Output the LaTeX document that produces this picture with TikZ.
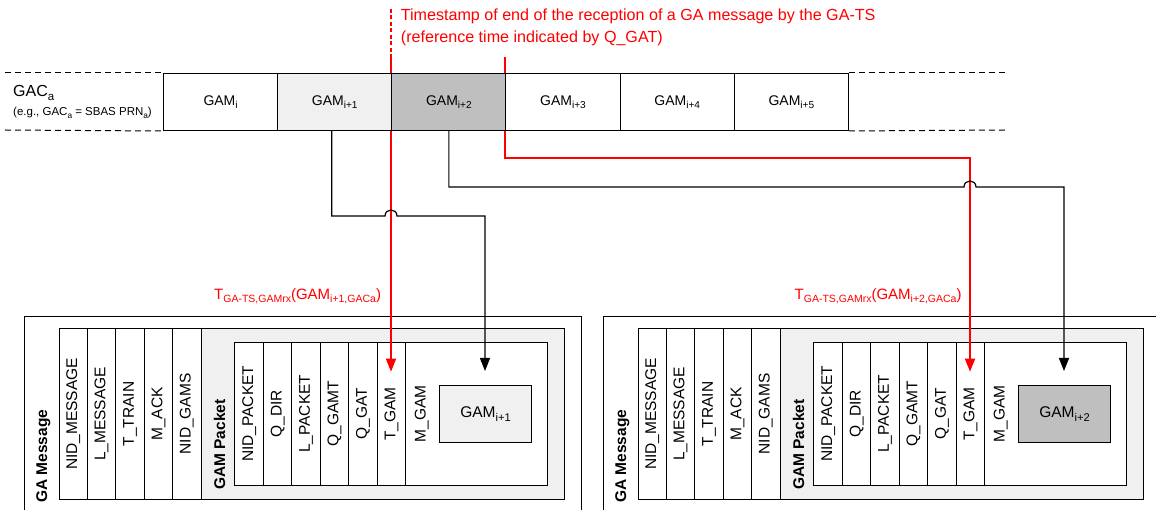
\documentclass[tikz,border=0pt]{standalone}
\usepackage{fontspec}
\setmainfont{Liberation Sans}
\usetikzlibrary{arrows.meta,calc}

% subscripts set smaller and lowered, in the current font
\newcommand\sbs[2][0.72]{\raisebox{-0.45ex}{\scalebox{#1}{#2}}}
\newcommand\fsz[1]{\fontsize{#1}{#1}\selectfont}

\tikzset{
  frame/.style={draw=black,line width=1pt},
  field/.style={frame,fill=white,rotate=90,inner sep=0pt,font=\fsz{15.5}},
  gambox/.style={frame,minimum width=114.15pt,minimum height=57pt,anchor=north west,inner sep=0pt,font=\fsz{14}},
  conn/.style={draw=black,line width=1.2pt},
  rconn/.style={draw=red,line width=1.6pt},
  tip/.style={-{Triangle[length=13pt,width=10pt]}},
  redtxt/.style={text=red,inner sep=0pt,font=\fsz{16.1}},
  hdr/.style={rotate=90,inner sep=0pt,font=\bfseries\fsz{15.5}},
}

% one GA message layout: #1 name prefix, #2 horizontal offset, #3 GAM index, #4 GAM fill
\newcommand\gapanel[4]{%
\begin{scope}[xshift=#2]
  \draw[frame] (24,317) rectangle (581.7,540);
  \draw[frame,fill=black!6] (201,329) rectangle (564.3,499);
  \foreach \lbl [count=\k from 0] in {NID\_MESSAGE,L\_MESSAGE,T\_TRAIN,M\_ACK,NID\_GAMS}
    \node[field,minimum width=170pt,minimum height=28.4pt] (#1-m\k) at ({73.2+28.4*\k},414) {\lbl};
  \draw[frame,fill=white] (235,342.7) rectangle (547.3,485);
  \foreach \lbl [count=\k from 0] in {NID\_PACKET,Q\_DIR,L\_PACKET,Q\_GAMT,Q\_GAT,T\_GAM}
    \node[field,minimum width=142.3pt,minimum height=28.45pt] (#1-p\k) at ({249.2+28.45*\k},413.85) {\lbl};
  \node[rotate=90,inner sep=0pt,font=\fsz{15.5}] (#1-mgam) at (421.7,414) {M\_GAM};
  \node[frame,fill=#4,minimum width=92.4pt,minimum height=57pt,inner sep=0pt,font=\fsz{15.5}] (#1-gam) at (485.5,414.2) {GAM\sbs{#3}};
  \node[hdr,anchor=base west] (#1-msg) at (47,503) {GA Message};
  \node[hdr,anchor=base west] (#1-pkt) at (225,490) {GAM Packet};
  \coordinate (#1-ttip) at (391,371.7);
  \coordinate (#1-mtip) at (485,371);
\end{scope}}

\begin{document}
\begin{tikzpicture}[x=1pt,y=-1pt]
\useasboundingbox (0,0) rectangle (1156,510);
\fill[white] (0,0) rectangle (1156,510);

% message layouts
\gapanel{L}{0pt}{i+1}{black!6}
\gapanel{R}{579pt}{i+2}{black!25}

% channel strip positions (drawn later, over the lines)
\path (163,73) node[gambox,draw=none] (g0) {}
      ++(114.15,0) node[gambox,draw=none] (g1) {}
      ++(114.15,0) node[gambox,draw=none] (g2) {}
      ++(114.15,0) node[gambox,draw=none] (g3) {}
      ++(114.15,0) node[gambox,draw=none] (g4) {}
      ++(114.15,0) node[gambox,draw=none] (g5) {};

% timestamp lines
\coordinate (tsTop) at (391,9);
\coordinate (tsMid) at (391,57);
\coordinate (tsRight) at (505,57);
\draw[rconn,dash pattern=on 4pt off 2.5pt] (tsTop) -- (tsMid);
\draw[rconn,tip] (tsMid) -- (L-ttip);
\draw[rconn,tip] (tsRight) -- (tsRight |- 0,158) -| (R-ttip);

% GAM routing lines with jumps over the timestamp lines
\coordinate (b1) at ($(g1.south)+(-3,0)$);
\draw[conn,tip] (b1) |- (385,216) .. controls (385,208) and (397,208) .. (397,216) -| (L-mtip);
\draw[conn,tip] (g2.south) |- (964,187) .. controls (964,179) and (976,179) .. (976,187) -| (R-mtip);

% channel strip
\node[gambox,fill=white] at (g0.north west) {GAM\sbs{i}};
\node[gambox,fill=black!6] at (g1.north west) {GAM\sbs{i+1}};
\node[gambox,fill=black!25] at (g2.north west) {GAM\sbs{i+2}};
\node[gambox,fill=white] at (g3.north west) {GAM\sbs{i+3}};
\node[gambox,fill=white] at (g4.north west) {GAM\sbs{i+4}};
\node[gambox,fill=white] at (g5.north west) {GAM\sbs{i+5}};
\draw[line width=1pt,dash pattern=on 6pt off 4pt] (5,73) -- (g0.north west);
\draw[line width=1pt,dash pattern=on 6pt off 4pt] (5,130) -- (g0.south west);
\draw[line width=1pt,dash pattern=on 6pt off 4pt] (g5.north east) -- (1005,73);
\draw[line width=1pt,dash pattern=on 6pt off 4pt] (g5.south east) -- (1005,130);

\node[anchor=base west,inner sep=0pt,font=\fsz{16}] (gac) at (13,97) {GAC\sbs{a}};
\node[anchor=base west,inner sep=0pt,font=\fsz{11.5}] (gacex) at (13,116) {(e.g., GAC\sbs{a} = SBAS PRN\sbs{a})};

% annotations
\node[redtxt,anchor=base west] (ts1) at (400.7,21) {Timestamp of end of the reception of a GA message by the GA-TS};
\node[redtxt,anchor=base west] (ts2) at (400.7,43) {(reference time indicated by Q\_GAT)};
\node[redtxt,font=\fsz{15},anchor=base east] (tl) at (381.2,299.3) {T\sbs[0.7]{GA-TS,GAMrx}(GAM\sbs[0.7]{i+1,GACa})};
\node[redtxt,font=\fsz{15},anchor=base east] (tr) at (961.7,299.3) {T\sbs[0.7]{GA-TS,GAMrx}(GAM\sbs[0.7]{i+2,GACa})};
\end{tikzpicture}
\end{document}
